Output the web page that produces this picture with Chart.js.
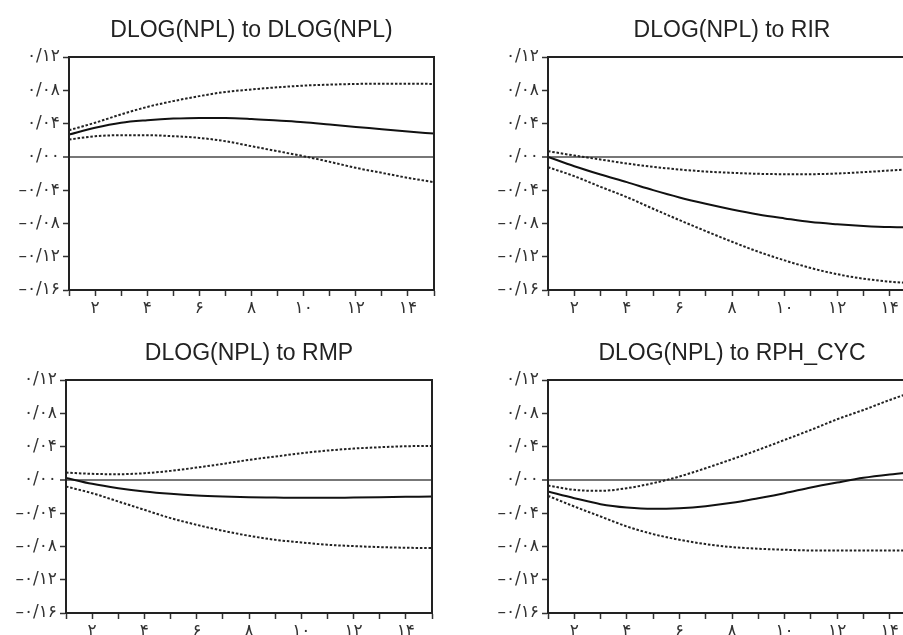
<!DOCTYPE html>
<html>
<head>
<meta charset="utf-8">
<script src="https://cdn.jsdelivr.net/npm/chart.js@4.4.1/dist/chart.umd.min.js"></script>
<style>
  html, body { margin: 0; padding: 0; background: #fff; overflow: hidden; }
  #wrap { position: relative; width: 903px; height: 635px; overflow: hidden; background: #fff; }
  canvas { position: absolute; }
</style>
</head>
<body>
<div id="wrap">
  <canvas id="c1" width="450" height="320" style="left:0px;top:0px;"></canvas>
  <canvas id="c2" width="482" height="320" style="left:450px;top:0px;"></canvas>
  <canvas id="c3" width="450" height="325" style="left:0px;top:320px;"></canvas>
  <canvas id="c4" width="482" height="325" style="left:450px;top:320px;"></canvas>
</div>
<script>
// ---- data ----
const periods = [1, 2, 3, 4, 5, 6, 7, 8, 9, 10, 11, 12, 13, 14, 15];
const yTicks = [-0.16, -0.12, -0.08, -0.04, 0.00, 0.04, 0.08, 0.12];
const xTickLabels = [2, 4, 6, 8, 10, 12, 14];

const titles = [
  "DLOG(NPL) to DLOG(NPL)",
  "DLOG(NPL) to RIR",
  "DLOG(NPL) to RMP",
  "DLOG(NPL) to RPH_CYC"
];

// DLOG(NPL) to DLOG(NPL)
const npl_resp  = [0.0268, 0.035, 0.041, 0.044, 0.046, 0.0468, 0.0468, 0.0456, 0.0436, 0.0416, 0.0388, 0.036, 0.0332, 0.0304, 0.028];
const npl_upper = [0.032, 0.041, 0.051, 0.060, 0.067, 0.073, 0.078, 0.081, 0.0836, 0.0856, 0.0868, 0.0876, 0.088, 0.088, 0.0876];
const npl_lower = [0.0208, 0.0248, 0.026, 0.026, 0.0248, 0.0228, 0.0188, 0.0128, 0.0068, 0.0008, -0.006, -0.0132, -0.0192, -0.0252, -0.0304];

// DLOG(NPL) to RIR
const rir_resp  = [0.0, -0.0112, -0.0212, -0.0304, -0.040, -0.0488, -0.0564, -0.0632, -0.0692, -0.074, -0.0784, -0.081, -0.083, -0.0844, -0.0848];
const rir_upper = [0.0068, 0.0016, -0.0032, -0.008, -0.012, -0.0152, -0.0176, -0.0192, -0.0204, -0.0208, -0.0208, -0.020, -0.0184, -0.0164, -0.0144];
const rir_lower = [-0.0124, -0.0232, -0.036, -0.0484, -0.0624, -0.076, -0.0892, -0.102, -0.114, -0.1244, -0.1336, -0.141, -0.1464, -0.150, -0.152];

// DLOG(NPL) to RMP
const rmp_resp  = [0.0024, -0.0048, -0.010, -0.014, -0.0168, -0.0188, -0.020, -0.0208, -0.0212, -0.0216, -0.0216, -0.0212, -0.0208, -0.0204, -0.020];
const rmp_upper = [0.0088, 0.0072, 0.0068, 0.008, 0.0108, 0.0148, 0.0192, 0.024, 0.028, 0.032, 0.0352, 0.0376, 0.0392, 0.0404, 0.0408];
const rmp_lower = [-0.008, -0.016, -0.026, -0.036, -0.046, -0.054, -0.0612, -0.0672, -0.072, -0.0752, -0.078, -0.0796, -0.0808, -0.0816, -0.082];

// DLOG(NPL) to RPH_CYC
const rph_resp  = [-0.014, -0.022, -0.0292, -0.0332, -0.0348, -0.034, -0.0316, -0.0276, -0.022, -0.016, -0.0092, -0.0032, 0.0024, 0.0064, 0.0096];
const rph_upper = [-0.0068, -0.012, -0.0132, -0.010, -0.004, 0.004, 0.014, 0.0248, 0.036, 0.048, 0.060, 0.0728, 0.084, 0.096, 0.107];
const rph_lower = [-0.0192, -0.032, -0.044, -0.056, -0.0652, -0.072, -0.0772, -0.0808, -0.0828, -0.084, -0.0848, -0.0848, -0.0848, -0.0848, -0.0848];

// ---- helpers ----
const faDigits = ['۰','۱','۲','۳','۴','۵','۶','۷','۸','۹'];
function toFa(s) { return String(s).replace(/[0-9]/g, d => faDigits[+d]); }
function fmtY(v) {
  const n = Math.round(v * 100);
  const a = Math.abs(n);
  const s = '0/' + (a < 10 ? '0' + a : String(a));
  return (n < 0 ? '\u2013' : '') + toFa(s);
}
function pts(arr) { return periods.map((p, i) => ({ x: p, y: arr[i] })); }

const frame = {
  id: 'frame',
  afterDatasetsDraw(chart) {
    const a = chart.chartArea, ctx = chart.ctx;
    ctx.save();
    ctx.strokeStyle = '#222';
    ctx.lineWidth = 2;
    ctx.strokeRect(a.left, a.top, a.right - a.left, a.bottom - a.top);
    ctx.restore();
  }
};

function makeChart(id, title, resp, upper, lower, L) {
  const tickFont = { family: 'DejaVu Sans', size: 17 };
  new Chart(document.getElementById(id), {
    type: 'line',
    data: {
      datasets: [
        { data: pts(resp),  borderColor: '#111', borderWidth: 2, pointRadius: 0, tension: 0.4, cubicInterpolationMode: 'monotone' },
        { data: pts(upper), borderColor: '#222', borderWidth: 2, borderDash: [2.5, 1.8], pointRadius: 0, tension: 0.4, cubicInterpolationMode: 'monotone' },
        { data: pts(lower), borderColor: '#222', borderWidth: 2, borderDash: [2.5, 1.8], pointRadius: 0, tension: 0.4, cubicInterpolationMode: 'monotone' }
      ]
    },
    options: {
      responsive: false,
      animation: false,
      devicePixelRatio: 1,
      layout: { padding: { left: 0, top: 0, right: L.right, bottom: L.bottom } },
      plugins: {
        legend: { display: false },
        tooltip: { enabled: false },
        title: {
          display: true, text: title, fullSize: false,
          color: '#222',
          font: { family: 'Liberation Sans', size: 23, weight: 'normal', lineHeight: 1.2 },
          padding: { top: L.tTop, bottom: L.tBottom }
        }
      },
      scales: {
        x: {
          type: 'linear', min: 1, max: 15,
          afterFit(s) { s.height = 30; },
          afterBuildTicks(s) { s.ticks = periods.map(v => ({ value: v })); },
          ticks: {
            color: '#333', font: tickFont, padding: 2, maxRotation: 0, autoSkip: false,
            callback: v => xTickLabels.includes(v) ? toFa(v) : ''
          },
          grid: { drawOnChartArea: false, drawTicks: true, tickLength: 6, tickColor: '#333', tickWidth: 1.5 },
          border: { display: true, color: '#222', width: 2 }
        },
        y: {
          min: -0.16, max: 0.12,
          afterFit(s) { s.width = L.yw; },
          afterBuildTicks(s) { s.ticks = yTicks.map(v => ({ value: v })); },
          ticks: { color: '#333', font: tickFont, padding: 3, autoSkip: false, callback: v => fmtY(v) },
          grid: {
            drawOnChartArea: true, drawTicks: true, tickLength: 6,
            color: c => (c.tick && Math.abs(c.tick.value) < 1e-9) ? '#777' : 'rgba(0,0,0,0)',
            lineWidth: c => (c.tick && Math.abs(c.tick.value) < 1e-9) ? 2 : 1,
            tickColor: '#333', tickWidth: 1.5
          },
          border: { display: true, color: '#222', width: 2 }
        }
      }
    },
    plugins: [frame]
  });
}

makeChart('c1', titles[0], npl_resp, npl_upper, npl_lower, { yw: 69, right: 16, bottom: 0, tTop: 16.4, tBottom: 13.0 });
makeChart('c2', titles[1], rir_resp, rir_upper, rir_lower, { yw: 98, right: 16, bottom: 0, tTop: 16.4, tBottom: 13.0 });
makeChart('c3', titles[2], rmp_resp, rmp_upper, rmp_lower, { yw: 66, right: 18, bottom: 2, tTop: 19.7, tBottom: 12.7 });
makeChart('c4', titles[3], rph_resp, rph_upper, rph_lower, { yw: 98, right: 16, bottom: 2, tTop: 19.7, tBottom: 12.7 });
</script>
</body>
</html>
